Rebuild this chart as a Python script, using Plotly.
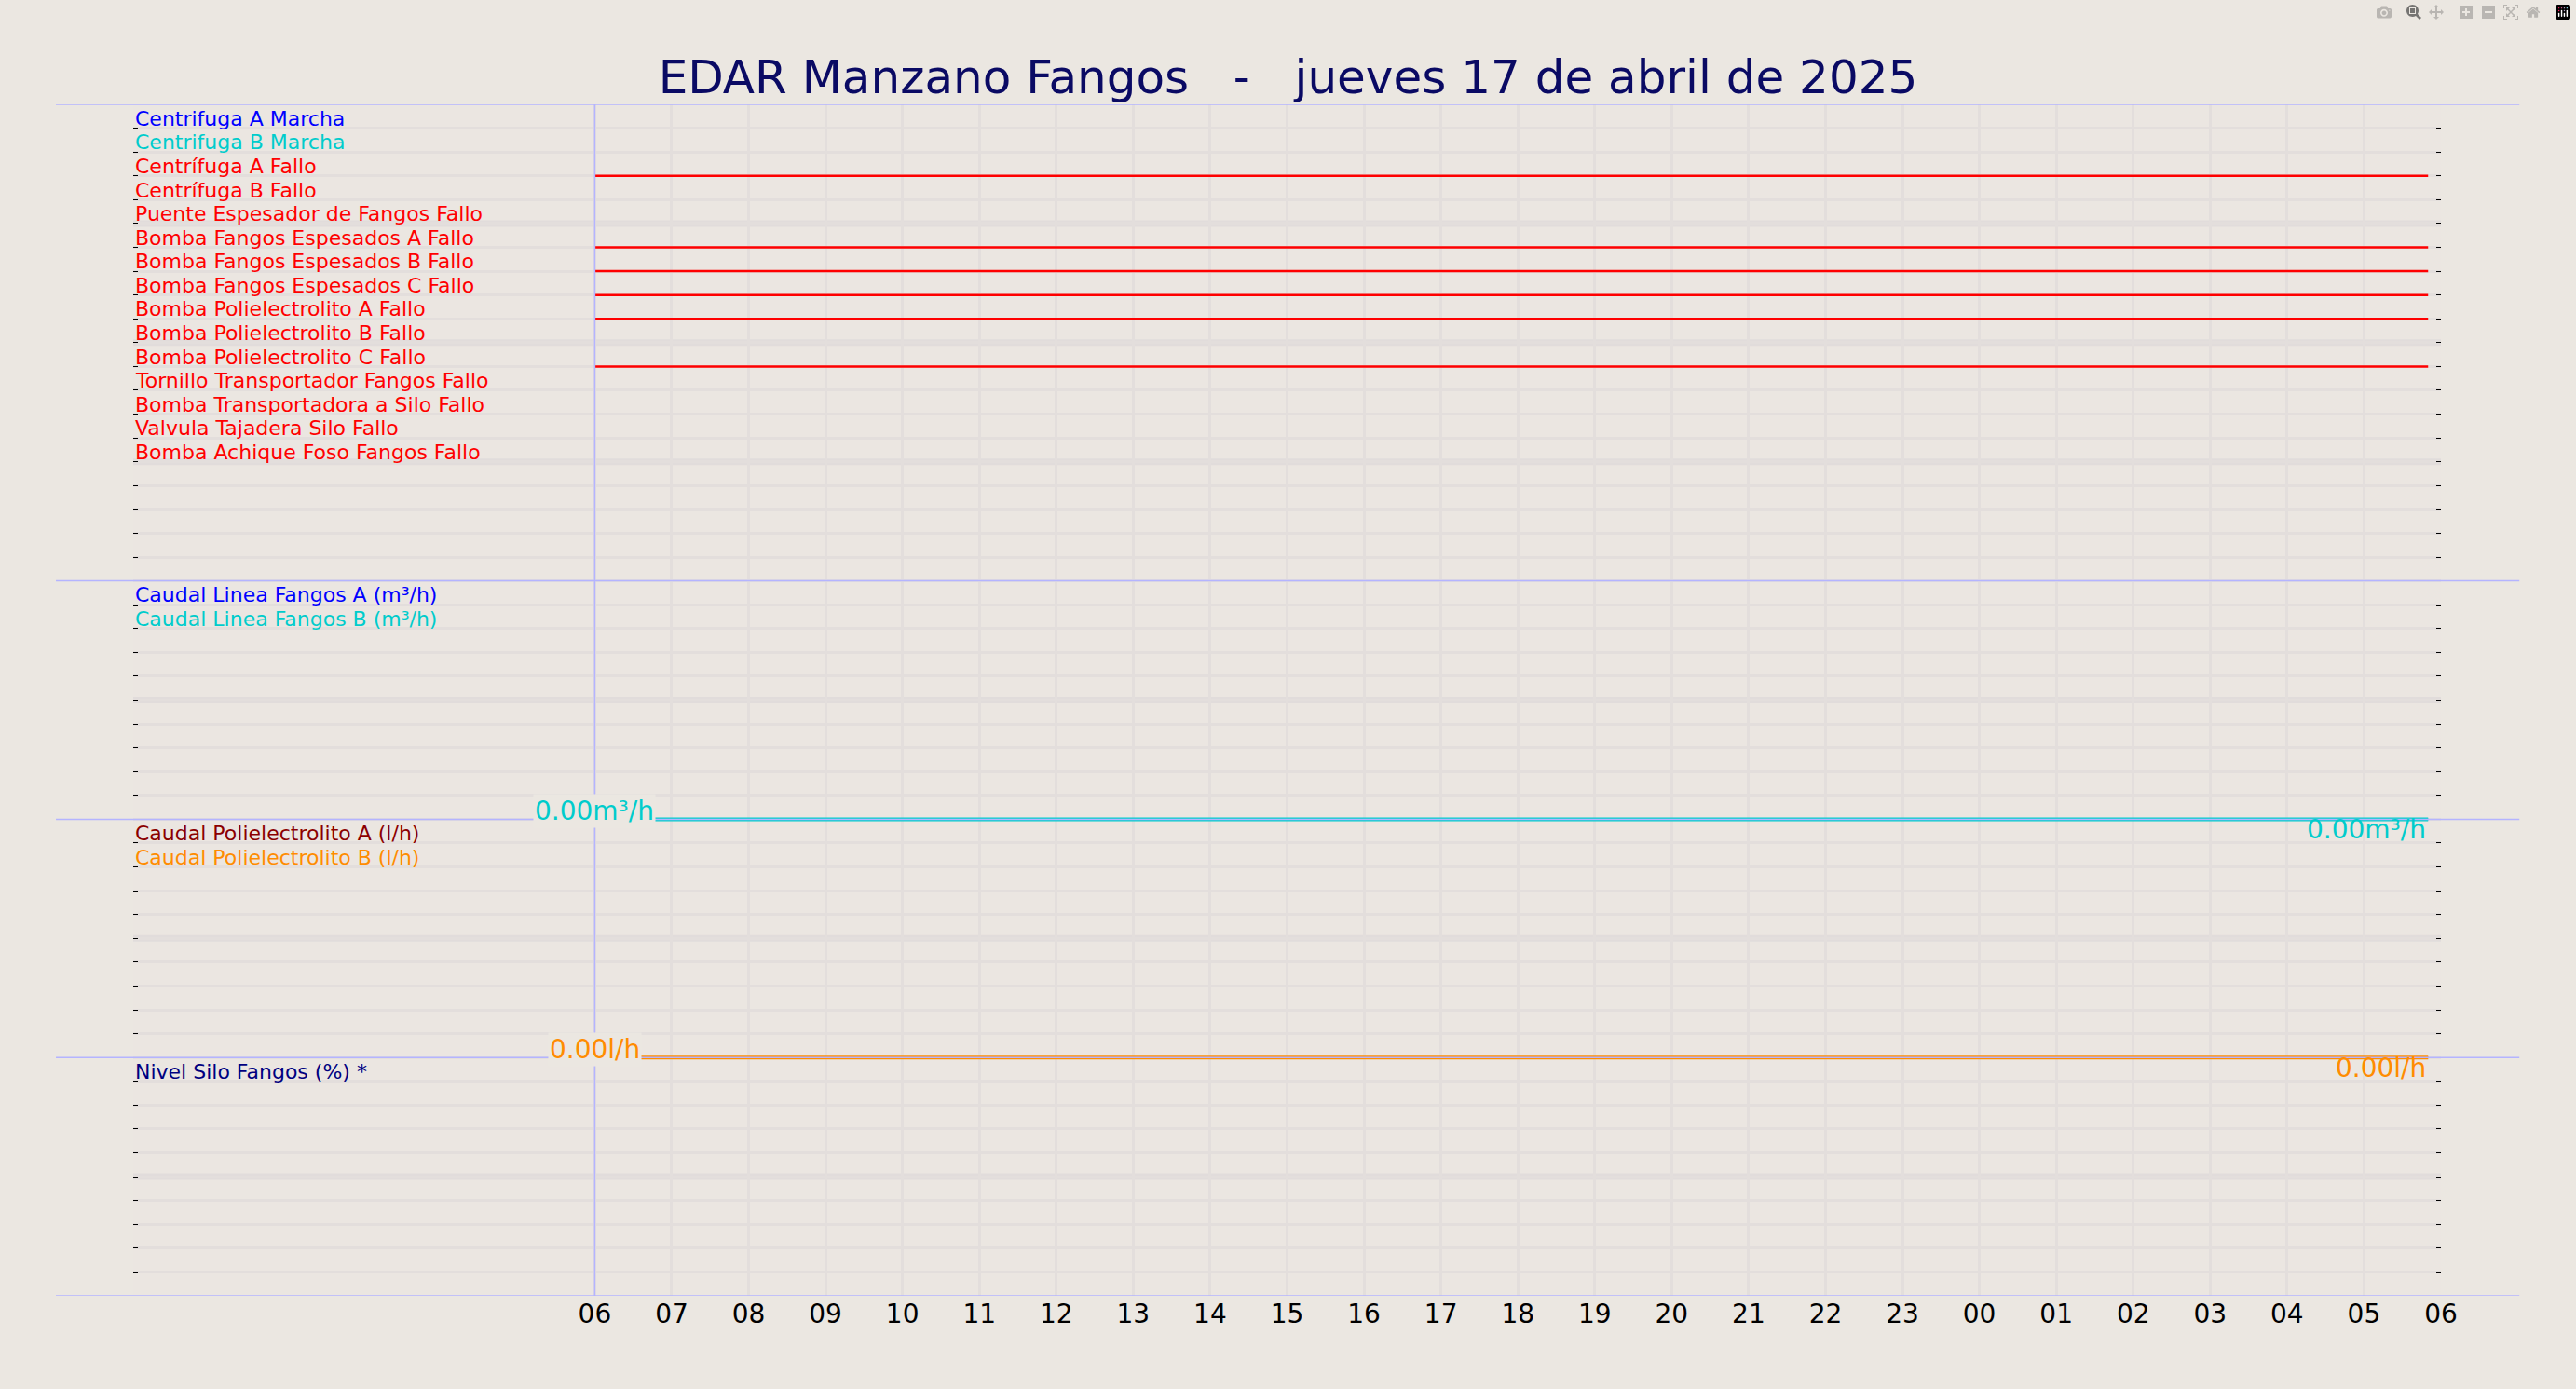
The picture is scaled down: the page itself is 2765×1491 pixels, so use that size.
import plotly.graph_objects as go
import pandas as pd

title = "EDAR Manzano Fangos   -   jueves 17 de abril de 2025"
x_start, x_end = "2025-04-17 00:00", "2025-04-18 06:00"
tick_times = pd.date_range("2025-04-17 06:00", "2025-04-18 06:00", freq="h")
tick_labels = [t.strftime("%H") for t in tick_times]

bool_names = ["Centrifuga A Marcha", "Centrifuga B Marcha", "Centrífuga A Fallo", "Centrífuga B Fallo",
              "Puente Espesador de Fangos Fallo", "Bomba Fangos Espesados A Fallo",
              "Bomba Fangos Espesados B Fallo", "Bomba Fangos Espesados C Fallo",
              "Bomba Polielectrolito A Fallo", "Bomba Polielectrolito B Fallo",
              "Bomba Polielectrolito C Fallo", "Tornillo Transportador Fangos Fallo",
              "Bomba Transportadora a Silo Fallo", "Valvula Tajadera Silo Fallo",
              "Bomba Achique Foso Fangos Fallo"]
bool_colors = ["#0000ff", "#00cccc"] + ["#ff0000"] * 13
bool_states = [0, 0, 1, 0, 0, 1, 1, 1, 1, 0, 1, 0, 0, 0, 0]
bool_times = ["2025-04-17 06:00", "2025-04-18 05:50"]

flow_names = ["Caudal Linea Fangos A (m³/h)", "Caudal Linea Fangos B (m³/h)"]
flow_colors = ["#0000ff", "#00cccc"]
flow_times = ["2025-04-17 06:45", "2025-04-18 05:50"]
flow_values = [[0.0, 0.0], [0.0, 0.0]]

poly_names = ["Caudal Polielectrolito A (l/h)", "Caudal Polielectrolito B (l/h)"]
poly_colors = ["#8b0000", "#ff8c00"]
poly_times = ["2025-04-17 06:35", "2025-04-18 05:50"]
poly_values = [[0.0, 0.0], [0.0, 0.0]]

silo_names = ["Nivel Silo Fangos (%) *"]
silo_colors = ["#000080"]

BG = "#ebe7e1"
SEP = "#b4b4ff"
LBL = 22
fig = go.Figure()
ann = []
TOP = 50
for i, (n, c, s) in enumerate(zip(bool_names, bool_colors, bool_states)):
    base = TOP - (i + 1)
    if s:
        fig.add_trace(go.Scatter(x=bool_times, y=[base, base], mode="lines",
                                 line=dict(color=c, width=2.5), showlegend=False, hoverinfo="skip"))
    ann.append(dict(x=x_start, y=TOP - i - 0.6, text=n, xanchor="left", yanchor="middle",
                    showarrow=False, font=dict(color=c, size=LBL)))

for n, c, v, k in zip(flow_names, flow_colors, flow_values, range(2)):
    fig.add_trace(go.Scatter(x=flow_times, y=[20 + val for val in v], mode="lines",
                             line=dict(color=c, width=2 + 2 * k), showlegend=False, hoverinfo="skip"))
    ann.append(dict(x=x_start, y=30 - k - 0.6, text=n, xanchor="left", yanchor="middle",
                    showarrow=False, font=dict(color=c, size=LBL)))
for n, c, v, k in zip(poly_names, poly_colors, poly_values, range(2)):
    fig.add_trace(go.Scatter(x=poly_times, y=[10 + val for val in v], mode="lines",
                             line=dict(color=c, width=2 + 2 * k), showlegend=False, hoverinfo="skip"))
    ann.append(dict(x=x_start, y=20 - k - 0.6, text=n, xanchor="left", yanchor="middle",
                    showarrow=False, font=dict(color=c, size=LBL)))
for k, (n, c) in enumerate(zip(silo_names, silo_colors)):
    ann.append(dict(x=x_start, y=10 - k - 0.6, text=n, xanchor="left", yanchor="middle",
                    showarrow=False, font=dict(color=c, size=LBL)))

ann += [
    dict(x="2025-04-17 06:00", y=20.35, text=f"{flow_values[1][0]:.2f}m³/h", showarrow=False,
         yanchor="middle", font=dict(color="#00cccc", size=28), bgcolor=BG),
    dict(x=flow_times[1], y=19.55, text=f"{flow_values[1][-1]:.2f}m³/h", showarrow=False,
         xanchor="right", yanchor="middle", font=dict(color="#00cccc", size=28)),
    dict(x="2025-04-17 06:00", y=10.35, text=f"{poly_values[1][0]:.2f}l/h", showarrow=False,
         yanchor="middle", font=dict(color="#ff8c00", size=28), bgcolor=BG),
    dict(x=poly_times[1], y=9.55, text=f"{poly_values[1][-1]:.2f}l/h", showarrow=False,
         xanchor="right", yanchor="middle", font=dict(color="#ff8c00", size=28)),
]

shapes = []
for yv in [45, 40, 35, 25, 15, 5]:
    shapes.append(dict(type="line", xref="paper", x0=0, x1=1, y0=yv, y1=yv,
                       line=dict(color="#e1dcdb", width=7), layer="below"))
for yv in [50, 30, 20, 10, 0]:
    shapes.append(dict(type="line", xref="paper", x0=-0.0335, x1=1.034, y0=yv, y1=yv,
                       line=dict(color=SEP, width=1.5)))
shapes.append(dict(type="line", x0="2025-04-17 06:00", x1="2025-04-17 06:00", y0=0, y1=50,
                   line=dict(color=SEP, width=1.5)))

fig.update_layout(
    width=2765, height=1491, paper_bgcolor=BG, plot_bgcolor="#ebe6e1",
    margin=dict(l=143, r=145, t=112, b=100),
    font=dict(family="DejaVu Sans", color="black"),
    title=dict(text=title, x=0.5, y=0.945, xanchor="center", yanchor="middle",
               font=dict(size=50, color="#0a0a64")),
    annotations=ann, shapes=shapes,
    xaxis=dict(range=[x_start, x_end], tickmode="array", tickvals=tick_times, ticktext=tick_labels,
               tickfont=dict(size=28), showgrid=True, gridcolor="#e3dedc", gridwidth=3,
               zeroline=False, showline=False, ticks=""),
    yaxis=dict(range=[0, 50], dtick=1, showticklabels=False, showgrid=True, gridcolor="#e3dedc",
               gridwidth=3, zeroline=False, ticks="inside", ticklen=5, tickcolor="black",
               mirror="ticks", showline=False),
)
fig.write_html("out.html",
               post_script="document.body.style.margin='0';document.body.style.background='#ebe7e1';")
